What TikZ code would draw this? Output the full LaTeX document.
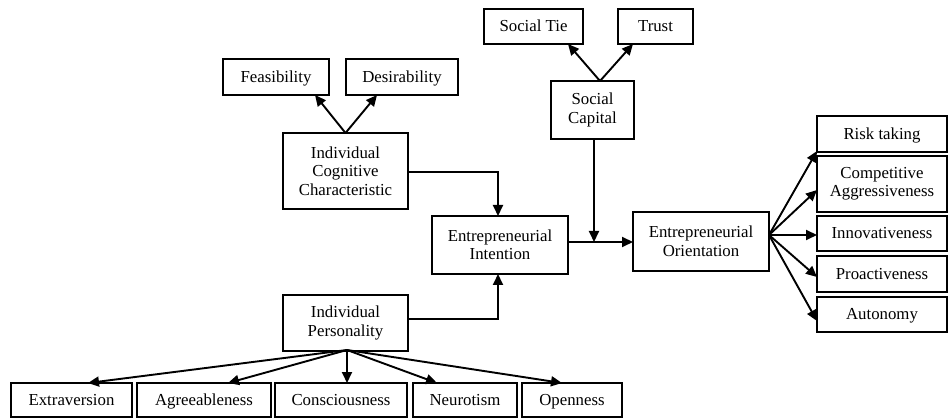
\documentclass[tikz,border=0pt]{standalone}
\usepackage{fontspec}
\setmainfont{Liberation Serif}
\usetikzlibrary{arrows.meta}
\begin{document}
\begin{tikzpicture}[x=1pt,y=-1pt,
  box/.style={draw, line width=1.7pt, inner sep=0pt, outer sep=0pt, align=center,
    font=\fontsize{16.8}{18.5}\selectfont},
  one/.style={text height=13pt, text depth=2pt},
  arr/.style={line width=1.9pt, -{Triangle[length=11pt,width=10pt]}}]
\useasboundingbox (0,0) rectangle (950,419);
% top left
\node[box, one, minimum width=106, minimum height=36] (feas) at (276,77) {Feasibility};
\node[box, one, minimum width=112, minimum height=36] (des) at (402,77) {Desirability};
\node[box, minimum width=125, minimum height=76] (icc) at (345.5,171) {Individual\\Cognitive\\Characteristic};
% top middle
\node[box, one, minimum width=99, minimum height=35] (stie) at (533.5,26.5) {Social Tie};
\node[box, one, minimum width=75, minimum height=35] (trust) at (655.5,26.5) {Trust};
\node[box, minimum width=83, minimum height=58] (sc) at (592.5,110) {Social\\Capital};
% center
\node[box, minimum width=136, minimum height=58] (ei) at (500,245) {Entrepreneurial\\Intention};
\node[box, minimum width=136, minimum height=59] (eo) at (701,241.5) {Entrepreneurial\\Orientation};
% right column
\node[box, one, minimum width=130, minimum height=36] (rt) at (882,134) {Risk taking};
\node[box, minimum width=130, minimum height=56] (ca) at (882,184) {Competitive\\Aggressiveness};
\node[box, one, minimum width=130, minimum height=35] (inn) at (882,233.5) {Innovativeness};
\node[box, one, minimum width=130, minimum height=36] (pro) at (882,274) {Proactiveness};
\node[box, one, minimum width=130, minimum height=35] (aut) at (882,314.5) {Autonomy};
% personality
\node[box, minimum width=125, minimum height=56] (ip) at (345.5,323) {Individual\\Personality};
\node[box, one, minimum width=121, minimum height=34] (ext) at (71.5,400) {Extraversion};
\node[box, one, minimum width=134, minimum height=34] (agr) at (204,400) {Agreeableness};
\node[box, one, minimum width=132, minimum height=34] (con) at (341,400) {Consciousness};
\node[box, one, minimum width=104, minimum height=34] (neu) at (465,400) {Neurotism};
\node[box, one, minimum width=100, minimum height=34] (ope) at (572,400) {Openness};
% helper coordinates
\coordinate (scap) at (600,81);
\coordinate (eoout) at (769,235);
\coordinate (ipout) at (347,350);
% arrows top
\draw[arr] (icc.north) -- (315,0 |- feas.south);
\draw[arr] (icc.north) -- (377,0 |- des.south);
\draw[arr] (scap) -- (568,0 |- stie.south);
\draw[arr] (scap) -- (633,0 |- trust.south);
% into EI
\draw[arr] (icc.east |- 0,172) -| (498,0 |- ei.north);
\draw[arr] (ip.east |- 0,319) -| (498,0 |- ei.south);
% EI to EO, SC down
\draw[arr] (ei.east |- 0,242) -- (eo.west |- 0,242);
\draw[arr] (594,0 |- sc.south) -- (594,242);
% EO to right column
\draw[arr] (eoout) -- (rt.west |- 0,151);
\draw[arr] (eoout) -- (ca.west |- 0,190);
\draw[arr] (eoout) -- (inn.west |- eoout);
\draw[arr] (eoout) -- (pro.west |- 0,277);
\draw[arr] (eoout) -- (aut.west |- 0,321);
% personality arrows
\draw[arr] (ipout) -- (88,0 |- ext.north);
\draw[arr] (ipout) -- (228,0 |- agr.north);
\draw[arr] (ipout) -- (347,0 |- con.north);
\draw[arr] (ipout) -- (437,0 |- neu.north);
\draw[arr] (ipout) -- (562,0 |- ope.north);
\end{tikzpicture}
\end{document}
